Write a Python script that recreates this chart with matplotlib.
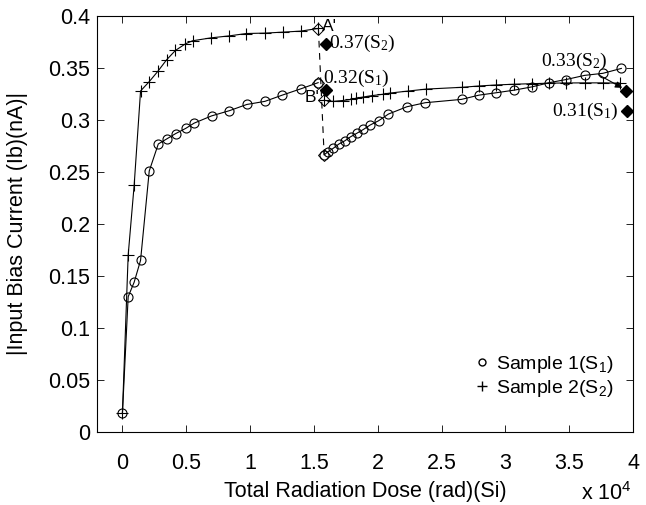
import matplotlib
matplotlib.use("Agg")
import matplotlib.pyplot as plt
from matplotlib.lines import Line2D

plt.rcParams['font.family'] = ['Liberation Sans', 'DejaVu Sans']
plt.rcParams['mathtext.default'] = 'regular'

# sample 1, first run (dose in 1e4 rad(Si), current in nA)
s1a_dose = [0, 0.045, 0.092, 0.142, 0.21, 0.281, 0.349, 0.417, 0.496, 0.561,
            0.698, 0.837, 0.974, 1.116, 1.252, 1.396, 1.533]
s1a_ib = [0.018, 0.130, 0.144, 0.165, 0.251, 0.277, 0.282, 0.287, 0.292, 0.297,
          0.304, 0.309, 0.315, 0.318, 0.324, 0.330, 0.336]
# sample 1, second run
s1b_dose = [1.58, 1.61, 1.651, 1.695, 1.743, 1.787, 1.835, 1.888, 1.94, 2.006,
            2.084, 2.228, 2.372, 2.656, 2.793, 2.929, 3.069, 3.21, 3.344, 3.475,
            3.62, 3.764, 3.908]
s1b_ib = [0.2665, 0.2695, 0.2728, 0.2769, 0.2801, 0.2839, 0.2872, 0.291, 0.2952, 0.2993,
          0.3058, 0.3128, 0.3167, 0.3199, 0.324, 0.3263, 0.3288, 0.332, 0.336, 0.339,
          0.343, 0.345, 0.3497]
# sample 2, first run
s2a_dose = [0, 0.045, 0.092, 0.142, 0.21, 0.278, 0.346, 0.415, 0.494, 0.549,
            0.693, 0.835, 0.971, 1.118, 1.254, 1.396, 1.535]
s2a_ib = [0.018, 0.170, 0.2375, 0.328, 0.337, 0.347, 0.358, 0.367, 0.3734, 0.3763,
          0.3791, 0.381, 0.3833, 0.3837, 0.3846, 0.3856, 0.3882]
# sample 2, second run
s2b_dose = [1.58, 1.651, 1.724, 1.79, 1.829, 1.887, 1.953, 2.039, 2.097, 2.236,
            2.378, 2.656, 2.793, 2.929, 3.069, 3.205, 3.344, 3.475, 3.62, 3.764, 3.9]
s2b_ib = [0.319, 0.318, 0.3188, 0.3198, 0.321, 0.3222, 0.3235, 0.3248, 0.326, 0.3279,
          0.3298, 0.3315, 0.3328, 0.3338, 0.3345, 0.335, 0.3355, 0.3357, 0.3358, 0.3358, 0.3355]

# segment end points (open diamonds) and annealed values (filled diamonds)
open_dose = [1.535, 1.533, 1.58, 1.58]
open_ib = [0.388, 0.336, 0.319, 0.2665]
fill_dose = [1.593, 1.593, 3.947, 3.955]
fill_ib = [0.373, 0.329, 0.328, 0.3087]

fig = plt.figure(figsize=(6.46, 5.05), dpi=100)
ax = fig.add_axes([0.150, 0.145, 0.830, 0.823])

ms = 6.5
ax.plot(s1a_dose, s1a_ib, "k-o", mfc="none", ms=ms, lw=0.8, mew=0.8)
ax.plot(s1b_dose, s1b_ib, "k-o", mfc="none", ms=ms, lw=0.8, mew=0.8)
ax.plot(s2a_dose, s2a_ib, "k-+", ms=ms + 1.5, lw=0.8, mew=0.8)
ax.plot(s2b_dose, s2b_ib, "k-+", ms=ms + 1.5, lw=0.8, mew=0.8)

# dashed jump between the runs
ax.plot([open_dose[0], open_dose[3]], [open_ib[0], open_ib[3]], "k--", lw=0.8,
        dashes=(6, 5))
ax.plot(open_dose, open_ib, "D", mfc="none", mec="k", ms=6, mew=0.7, ls="none")
ax.plot(fill_dose, fill_ib, "kD", ms=6, ls="none")

serif = ['Liberation Serif', 'DejaVu Serif']
fs = 14
ax.text(1.56, 0.3905, "A'", fontsize=12.5, va="center", ha="left")
ax.text(1.545, 0.3215, "B'", fontsize=12.5, va="center", ha="right")
ax.text(1.62, 0.3735, "0.37(S$_2$)", family=serif, fontsize=fs, va="center")
ax.text(1.57, 0.3405, "0.32(S$_1$)", family=serif, fontsize=fs, va="center")
ax.text(3.89, 0.3087, "0.31(S$_1$)", family=serif, fontsize=fs, va="center", ha="right")
ax.annotate("0.33(S$_2$)", xy=(3.915, 0.331), xytext=(3.80, 0.3565),
            family=serif, fontsize=fs, va="center", ha="right",
            arrowprops=dict(arrowstyle="-|>", color="k", lw=0.8,
                            shrinkA=0, shrinkB=0, mutation_scale=10))

lab_fs = 15.5
ax.set_xlim(-0.2, 4)
ax.set_ylim(0, 0.4)
ax.set_xticks([0, 0.5, 1, 1.5, 2, 2.5, 3, 3.5, 4])
ax.set_xticklabels(["0", "0.5", "1", "1.5", "2", "2.5", "3", "3.5", "4"])
ax.set_yticks([0, 0.05, 0.1, 0.15, 0.2, 0.25, 0.3, 0.35, 0.4])
ax.set_yticklabels(["0", "0.05", "0.1", "0.15", "0.2", "0.25", "0.3", "0.35", "0.4"])
ax.tick_params(direction="in", top=True, right=True, labelsize=lab_fs, length=5, width=0.6)
ax.tick_params(axis="x", pad=15)
ax.tick_params(axis="y", pad=5)
for sp in ax.spines.values():
    sp.set_linewidth(0.8)
ax.set_xlabel("Total Radiation Dose (rad)(Si)", fontsize=lab_fs, labelpad=5)
ax.set_ylabel("|Input Bias Current (Ib)(nA)|", fontsize=lab_fs, labelpad=14)
fig.text(0.978, 0.0, "x 10$^4$", fontsize=lab_fs, ha="right", va="bottom")

handles = [Line2D([], [], marker="o", mfc="none", mec="k", ls="none", ms=5),
           Line2D([], [], marker="+", color="k", ls="none", ms=7)]
ax.legend(handles, ["Sample 1(S$_1$)", "Sample 2(S$_2$)"], loc="upper left",
          bbox_to_anchor=(0.69, 0.21), frameon=False, fontsize=14,
          handlelength=0.6, handletextpad=0.4, borderpad=0, labelspacing=0.15)

fig.savefig("out.png", dpi=100)
